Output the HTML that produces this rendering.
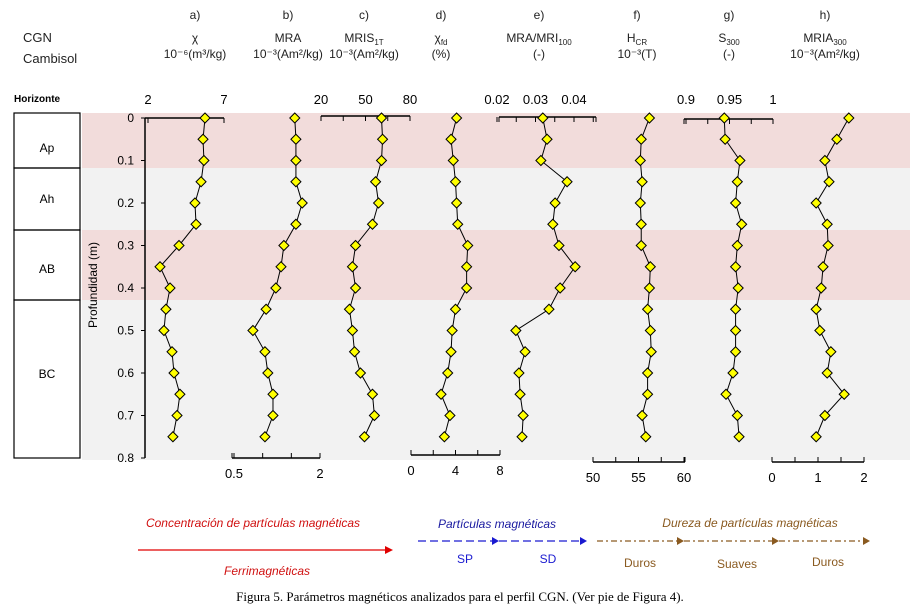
<!DOCTYPE html>
<html><head><meta charset="utf-8"><style>
body{margin:0;background:#fff;width:910px;height:608px;overflow:hidden;font-family:"Liberation Sans",sans-serif}
svg text{font-family:"Liberation Sans",sans-serif}
</style></head><body>
<svg id="c" width="910" height="608" xmlns="http://www.w3.org/2000/svg">
<g>
<rect x="82" y="113" width="828" height="55" fill="#f2dcdb"/>
<rect x="82" y="168" width="828" height="62" fill="#f2f2f2"/>
<rect x="82" y="230" width="828" height="70" fill="#f2dcdb"/>
<rect x="82" y="300" width="828" height="160" fill="#f2f2f2"/>
</g>
<g stroke="#000" fill="none" stroke-width="1.2">
<rect x="14" y="113" width="66" height="55"/>
<rect x="14" y="168" width="66" height="62"/>
<rect x="14" y="230" width="66" height="70"/>
<rect x="14" y="300" width="66" height="158"/>
</g>
<g font-size="12" text-anchor="middle">
<text x="47" y="152">Ap</text>
<text x="47" y="203">Ah</text>
<text x="47" y="273">AB</text>
<text x="47" y="378">BC</text>
</g>
<text x="14" y="102" font-size="10" font-weight="bold">Horizonte</text>
<text x="23" y="42" font-size="13" fill="#222">CGN</text>
<text x="23" y="63" font-size="13" fill="#222">Cambisol</text>
<text transform="translate(97,285) rotate(-90)" font-size="12" text-anchor="middle">Profundidad (m)</text>
<g id="axes"></g>
<g id="series"></g>
<g id="head" font-size="12" text-anchor="middle" fill="#222"></g>
<g>
<text x="253" y="527" font-size="12" font-style="italic" fill="#d01010" text-anchor="middle">Concentración de partículas magnéticas</text>
<line x1="138" y1="550" x2="385" y2="550" stroke="#e00000" stroke-width="1.2"/>
<polygon points="385,546 393,550 385,554" fill="#e00000"/>
<text x="267" y="575" font-size="12" font-style="italic" fill="#d01010" text-anchor="middle">Ferrimagnéticas</text>
</g>
<g>
<text x="497" y="528" font-size="12" font-style="italic" fill="#1a1aa0" text-anchor="middle">Partículas magnéticas</text>
<line x1="418" y1="541" x2="492" y2="541" stroke="#1a1ad0" stroke-width="1.3" stroke-dasharray="8,4"/>
<polygon points="492,537 499,541 492,545" fill="#1a1ad0"/>
<line x1="499" y1="541" x2="580" y2="541" stroke="#1a1ad0" stroke-width="1.3" stroke-dasharray="8,4"/>
<polygon points="580,537 587,541 580,545" fill="#1a1ad0"/>
<text x="465" y="563" font-size="12" fill="#1a1ad0" text-anchor="middle">SP</text>
<text x="548" y="563" font-size="12" fill="#1a1ad0" text-anchor="middle">SD</text>
</g>
<g fill="#8a5a20">
<text x="750" y="527" font-size="12" font-style="italic" text-anchor="middle">Dureza de partículas magnéticas</text>
<line x1="597" y1="541" x2="677" y2="541" stroke="#8a5a20" stroke-width="1.2" stroke-dasharray="6,3,2,3"/>
<polygon points="677,537 684,541 677,545"/>
<line x1="684" y1="541" x2="772" y2="541" stroke="#8a5a20" stroke-width="1.2" stroke-dasharray="6,3,2,3"/>
<polygon points="772,537 779,541 772,545"/>
<line x1="779" y1="541" x2="863" y2="541" stroke="#8a5a20" stroke-width="1.2" stroke-dasharray="6,3,2,3"/>
<polygon points="863,537 870,541 863,545"/>
<text x="640" y="567" font-size="12" text-anchor="middle">Duros</text>
<text x="737" y="568" font-size="12" text-anchor="middle">Suaves</text>
<text x="828" y="566" font-size="12" text-anchor="middle">Duros</text>
</g>
<text x="460" y="601" font-size="13" style="font-family:'Liberation Serif',serif" text-anchor="middle">Figura 5. Parámetros magnéticos analizados para el perfil CGN. (Ver pie de Figura 4).</text>
</svg>
<script>
const depths=[0,0.05,0.1,0.15,0.2,0.25,0.3,0.35,0.4,0.45,0.5,0.55,0.6,0.65,0.7,0.75];
const depthTicks=[0,0.1,0.2,0.3,0.4,0.5,0.6,0.7,0.8];
const chiVals=[5.75,5.62,5.68,5.49,5.09,5.16,4.04,2.79,3.45,3.18,3.05,3.58,3.71,4.1,3.91,3.64];
const mraVals=[1.56,1.58,1.58,1.58,1.69,1.58,1.37,1.32,1.23,1.06,0.83,1.04,1.09,1.18,1.18,1.04];
const mrisVals=[60.8,61.5,60.8,56.8,58.8,54.7,43.3,41.2,43.3,39.2,41.2,42.6,46.6,54.7,56.0,49.3];
const chifdVals=[4.1,3.6,3.8,4.0,4.1,4.2,5.1,5.0,5.0,4.0,3.7,3.6,3.3,2.7,3.5,3.0];
const ratioVals=[0.0319,0.0330,0.0314,0.0382,0.0351,0.0345,0.0361,0.0403,0.0364,0.0335,0.0249,0.0273,0.0257,0.0260,0.0268,0.0265];
const hcrVals=[56.2,55.3,55.2,55.4,55.2,55.3,55.3,56.3,56.2,56.0,56.3,56.4,56.0,56.0,55.4,55.8];
const s300Vals=[0.944,0.945,0.962,0.959,0.957,0.964,0.959,0.957,0.960,0.957,0.957,0.957,0.954,0.946,0.959,0.961];
const mriaVals=[1.67,1.41,1.15,1.24,0.96,1.20,1.22,1.11,1.07,0.96,1.04,1.28,1.20,1.57,1.15,0.96];
const headLetters=["a)","b)","c)","d)","e)","f)","g)","h)"];
const tickA=[2,7], tickB=[0.5,2], tickC=[20,50,80], tickD=[0,4,8], tickE=[0.02,0.03,0.04], tickF=[50,55,60], tickG=[0.9,0.95,1], tickH=[0,1,2];

const NS="http://www.w3.org/2000/svg";
function el(tag,attrs,parent,txt){const e=document.createElementNS(NS,tag);for(const k in attrs)e.setAttribute(k,attrs[k]);if(txt!==undefined)e.textContent=txt;parent.appendChild(e);return e;}
const yS=d=>118+d*425;
function lin(v0,x0,v1,x1){return v=>x0+(v-v0)*(x1-x0)/(v1-v0);}
const panels=[
 {key:"chi",vals:chiVals,s:lin(2,148,7,224),ticks:tickA,top:true,ax:[145,224],ay:118,minor:[]},
 {key:"mra",vals:mraVals,s:lin(0.5,234,2,320),ticks:tickB,top:false,ax:[232,320],ay:458,minor:[1,1.5]},
 {key:"mris",vals:mrisVals,s:lin(20,321,80,410),ticks:tickC,top:true,ax:[321,410],ay:116,minor:[35,65]},
 {key:"chifd",vals:chifdVals,s:lin(0,411,8,500),ticks:tickD,top:false,ax:[411,500],ay:455,minor:[2,6]},
 {key:"ratio",vals:ratioVals,s:lin(0.02,497,0.03,535.5),ticks:tickE,top:true,ax:[499,596],ay:117,minor:[0.025,0.035,0.045]},
 {key:"hcr",vals:hcrVals,s:lin(50,593,60,684),ticks:tickF,top:false,ax:[593,685],ay:462,minor:[52.5,57.5]},
 {key:"s300",vals:s300Vals,s:lin(0.9,686,1,773),ticks:tickG,top:true,ax:[684,773],ay:119,minor:[0.925,0.975]},
 {key:"mria",vals:mriaVals,s:lin(0,772,2,864),ticks:tickH,top:false,ax:[772,864],ay:462,minor:[0.5,1.5]}
];
const axes=document.getElementById('axes'), ser=document.getElementById('series');
let ya=el('line',{x1:145,y1:118,x2:145,y2:458,stroke:'#000','stroke-width':1.5},axes);


depthTicks.forEach(t=>{
 const tx=el('text',{x:134,y:yS(t)+4,'font-size':12,'text-anchor':'end'},axes,String(t));
 
 
 const tk=el('line',{x1:141,y1:yS(t),x2:145,y2:yS(t),stroke:'#000'},axes);
 
 
});
panels.forEach((p,i)=>{
 const g=el('g',{},axes);
 
 
 el('line',{x1:p.ax[0],y1:p.ay,x2:p.ax[1],y2:p.ay,stroke:'#000','stroke-width':1.5},g);
 const dir=p.top?5:-5;
 [p.ax[0],p.ax[1]].forEach(x=>el('line',{x1:x,y1:p.ay,x2:x,y2:p.ay+dir,stroke:'#000'},g));
 p.ticks.concat(p.minor).forEach(t=>{const x=p.s(t);el('line',{x1:x,y1:p.ay,x2:x,y2:p.ay+dir,stroke:'#000'},g);});
 p.ticks.forEach(t=>{
  const x=p.s(t);
  const tl=el('text',{x:x,y:p.top?104:p.ay+20,'font-size':13,'text-anchor':'middle'},g,String(t));
  
  
 });
 const sg=el('g',{},ser);
 
 
 const pts=p.vals.map((v,j)=>[p.s(v),yS(depths[j])]);
 el('polyline',{points:pts.map(q=>q.join(',')).join(' '),fill:'none',stroke:'#000','stroke-width':1},sg);
 pts.forEach(q=>{
  const m=el('polygon',{points:`${q[0]},${q[1]-5} ${q[0]+5},${q[1]} ${q[0]},${q[1]+5} ${q[0]-5},${q[1]}`,fill:'#ffff00',stroke:'#000','stroke-width':1},sg);
  
  
 });
});
const head=document.getElementById('head');
const hx=[195,288,364,441,539,637,729,825];
const titles=[["χ","10⁻⁶(m³/kg)"],["MRA","10⁻³(Am²/kg)"],["MRIS<tspan font-size='8' dy='3'>1T</tspan>","10⁻³(Am²/kg)"],["χ<tspan font-size='8' dy='3'>fd</tspan>","(%)"],["MRA/MRI<tspan font-size='8' dy='3'>100</tspan>","(-)"],["H<tspan font-size='8' dy='3'>CR</tspan>","10⁻³(T)"],["S<tspan font-size='8' dy='3'>300</tspan>","(-)"],["MRIA<tspan font-size='8' dy='3'>300</tspan>","10⁻³(Am²/kg)"]];
hx.forEach((x,i)=>{
 const l=el('text',{x:x,y:19},head,headLetters[i]);
 
 
 const t=el('text',{x:x,y:42},head);t.innerHTML=titles[i][0];
 
 
 const u=el('text',{x:x,y:58},head,titles[i][1]);
 
 
});
</script>
</body></html>
